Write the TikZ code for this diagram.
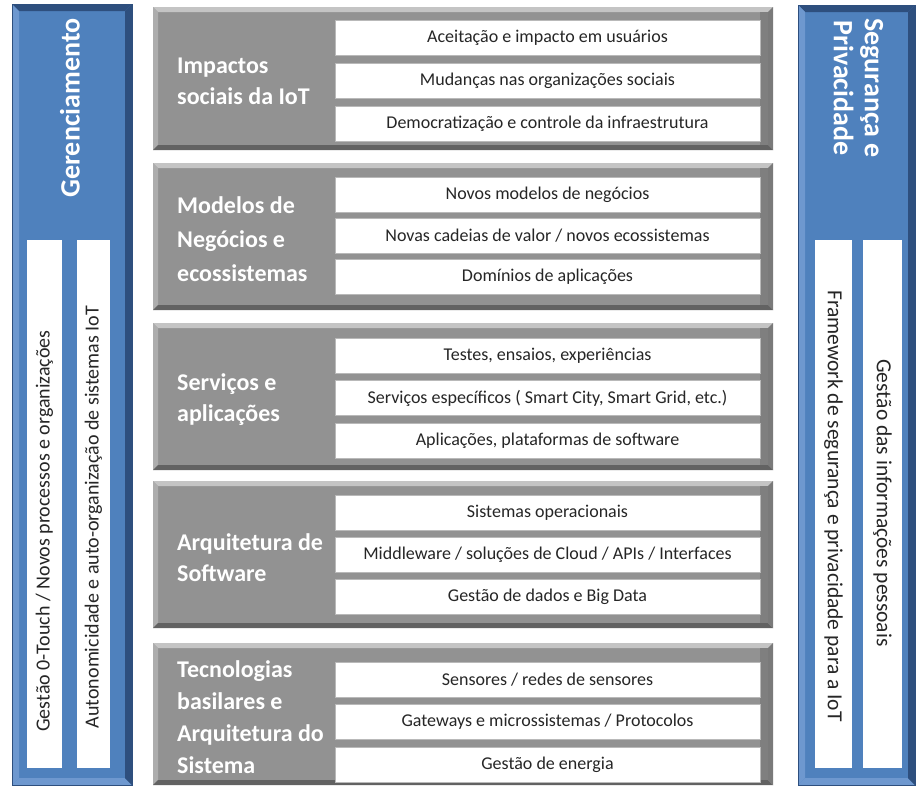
\documentclass[tikz,border=0pt]{standalone}
\usepackage{fontspec}
\setmainfont{Carlito}
\definecolor{bface}{HTML}{4F81BD}
\definecolor{bdark}{HTML}{2E4F7E}
\definecolor{blight}{HTML}{6E98CF}
\definecolor{gface}{HTML}{929292}
\definecolor{glight}{HTML}{C4C4C4}
\definecolor{gleft}{HTML}{ADADAD}
\definecolor{gdark}{HTML}{626262}
\definecolor{gright}{HTML}{7A7A7A}
\definecolor{rowtext}{HTML}{262626}
\tikzset{
  rowbox/.style={fill=white, draw=gray!55, line width=0.6pt, minimum width=425pt, minimum height=35pt, inner sep=0pt, font=\fontsize{18}{20}\selectfont, text=rowtext},
  lbl/.style={anchor=west, align=left, text=white, font=\bfseries\fontsize{24}{31}\selectfont, inner sep=0pt},
  vtextl/.style={text=rowtext, font=\fontsize{20}{22}\selectfont, inner sep=0pt},
  vtextr/.style={text=rowtext, font=\fontsize{21.5}{23}\selectfont, inner sep=0pt},
  ttl/.style={text=white, font=\bfseries\fontsize{28}{31}\selectfont, inner sep=0pt, align=center}
}
% bevel: x1 y1 x2 y2 b top left bottom right
\newcommand\bev[9]{%
  \fill[#6] (#1,#2) -- (#3,#2) -- ({#3-#5},{#2+#5}) -- ({#1+#5},{#2+#5}) -- cycle;
  \fill[#7] (#1,#2) -- ({#1+#5},{#2+#5}) -- ({#1+#5},{#4-#5}) -- (#1,#4) -- cycle;
  \fill[#8] (#1,#4) -- ({#1+#5},{#4-#5}) -- ({#3-#5},{#4-#5}) -- (#3,#4) -- cycle;
  \fill[#9] (#3,#2) -- (#3,#4) -- ({#3-#5},{#4-#5}) -- ({#3-#5},{#2+#5}) -- cycle;
}
% gray panel: name top bottom row1 pitch label r1 r2 r3
\newcommand\gpanel[9]{%
  \fill[gface] (153,#2) rectangle (773,#3);
  \bev{153}{#2}{773}{#3}{5}{glight}{gleft}{gdark}{gright}
  \fill[gright!80!gface] (760,{#2+5}) rectangle (768,{#3-5});
  \node[rowbox] (#1r1) at (547.5,{#4+17.5}) {#7};
  \node[rowbox] (#1r2) at (547.5,{#4+#5+17.5}) {#8};
  \node[rowbox] (#1r3) at (547.5,{#4+2*#5+17.5}) {#9};
  \node[lbl] (#1lab) at (177,{(#2+#3)/2+3}) {#6};
}
\begin{document}
\begin{tikzpicture}[x=1pt,y=-1pt]
\useasboundingbox (0,0) rectangle (918,788);
\fill[white] (0,0) rectangle (918,788);

% left management panel
\fill[bface] (12,4) rectangle (132,785);
\bev{12}{4}{132}{785}{7}{bdark}{blight}{blight}{bdark}
\draw[bdark, line width=1pt] (12,4) rectangle (132,785);
\node[ttl, rotate=90] (gtitle) at (70,108) {Gerenciamento};
\fill[white] (27,240) rectangle (62,768);
\fill[white] (77,240) rectangle (110,768);
\node[vtextl, rotate=90] (gt1) at (44.5,531) {Gestão 0-Touch / Novos processos e organizações};
\node[vtextl, rotate=90] (gt2) at (93.5,517) {Autonomicidade e auto-organização de sistemas IoT};

% right security panel
\fill[bface] (798,5) rectangle (915,785);
\bev{798}{5}{915}{785}{7}{bdark}{blight}{blight}{bdark}
\draw[bdark, line width=1pt] (798,5) rectangle (915,785);
\node[ttl, rotate=-90] (stitle) at (858.5,88) {Segurança e\\Privacidade};
\fill[white] (815,240) rectangle (852,768);
\fill[white] (863,240) rectangle (902,768);
\node[vtextr, rotate=-90] (st1) at (833.5,506) {Framework de segurança e privacidade para a IoT};
\node[vtextr, rotate=-90] (st2) at (882.5,503) {Gestão das informações pessoais};

% middle panels
\gpanel{pa}{7}{150}{20}{43}{Impactos\\sociais da IoT}{Aceitação e impacto em usuários}{Mudanças nas organizações sociais}{Democratização e controle da infraestrutura}
\gpanel{pb}{163}{310}{177}{41}{Modelos de\\[3pt]Negócios e\\[3pt]ecossistemas}{Novos modelos de negócios}{Novas cadeias de valor / novos ecossistemas}{Domínios de aplicações}
\gpanel{pc}{323}{470}{338}{42.5}{Serviços e\\aplicações}{Testes, ensaios, experiências}{Serviços específicos ( Smart City, Smart Grid, etc.)}{Aplicações, plataformas de software}
\gpanel{pd}{481}{628}{495}{42}{Arquitetura de\\Software}{Sistemas operacionais}{Middleware / soluções de Cloud / APIs / Interfaces}{Gestão de dados e Big Data}
\gpanel{pe}{643}{785}{662}{42.5}{Tecnologias\\[1pt]basilares e\\[1pt]Arquitetura do\\[1pt]Sistema}{Sensores / redes de sensores}{Gateways e microssistemas / Protocolos}{Gestão de energia}
\end{tikzpicture}
\end{document}
